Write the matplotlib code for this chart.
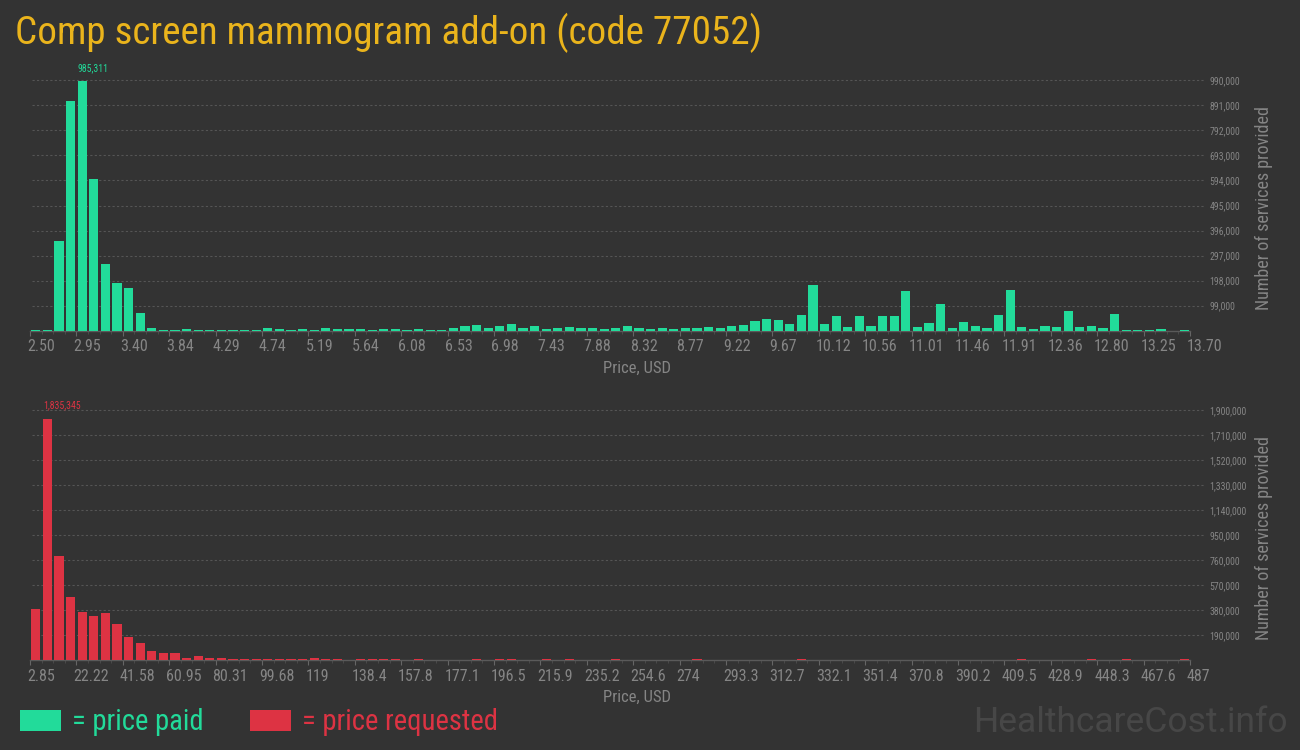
import numpy as np
import matplotlib
matplotlib.use("Agg")
import matplotlib.pyplot as plt
from matplotlib import font_manager
from matplotlib.patches import Rectangle
from matplotlib.transforms import ScaledTranslation

# --- data ---
paid_price_min, paid_price_max = 2.50, 13.70
requested_price_min, requested_price_max = 2.85, 487.0

paid_counts = [
    4000, 4000, 354500, 908000, 985311, 599700, 263600, 188500, 168700, 69900,
    11500, 4000, 4000, 7500, 4000, 4000, 4000, 4000, 4000, 4000,
    11500, 7500, 4000, 7500, 4000, 11500, 7500, 7500, 7500, 4000,
    7500, 7500, 4000, 7500, 4000, 4000, 9500, 17200, 21100, 9200,
    17200, 25000, 9200, 17200, 5300, 9200, 13200, 9200, 9200, 5300,
    9200, 17200, 9200, 5300, 9200, 5300, 9200, 9200, 13200, 9200,
    17200, 21100, 37000, 44900, 41500, 25500, 61500, 180000, 25500, 57500,
    14000, 57500, 18000, 58000, 58000, 156800, 14500, 30300, 105400, 10500,
    34300, 18500, 10500, 61900, 160800, 14500, 6600, 18500, 14500, 77800,
    14500, 18500, 10500, 65900, 4000, 4000, 4000, 6600, 0, 4000,
]

requested_counts = [
    390100, 1835345, 792900, 481300, 367300, 336900, 359700, 276100, 177300, 131700,
    70900, 55700, 55700, 17700, 32900, 17700, 17700, 7000, 10100, 7000,
    10100, 7000, 7000, 7000, 17700, 7000, 7000, 0, 7000, 7000,
    7000, 7000, 0, 7000, 0, 0, 0, 0, 7000, 0,
    7000, 7000, 0, 0, 7000, 0, 7000, 0, 0, 0,
    7000, 0, 0, 0, 0, 0, 0, 7000, 0, 0,
    0, 0, 0, 0, 0, 0, 7000, 0, 0, 0,
    0, 0, 0, 0, 0, 0, 0, 0, 0, 0,
    0, 0, 0, 0, 0, 7000, 0, 0, 0, 0,
    0, 7000, 0, 0, 7000, 0, 0, 0, 0, 7000,
]

paid_tick_labels = [
    "2.50", "2.95", "3.40", "3.84", "4.29", "4.74", "5.19", "5.64", "6.08",
    "6.53", "6.98", "7.43", "7.88", "8.32", "8.77", "9.22", "9.67", "10.12",
    "10.56", "11.01", "11.46", "11.91", "12.36", "12.80", "13.25", "13.70",
]
requested_tick_labels = [
    "2.85", "22.22", "41.58", "60.95", "80.31", "99.68", "119", "138.4",
    "157.8", "177.1", "196.5", "215.9", "235.2", "254.6", "274", "293.3",
    "312.7", "332.1", "351.4", "370.8", "390.2", "409.5", "428.9", "448.3",
    "467.6", "487",
]

paid_yticks = [99000 * i for i in range(1, 11)]
requested_yticks = [190000 * i for i in range(1, 11)]

title = "Comp screen mammogram add-on (code 77052)"

# --- style ---
BG = "#333333"
GREEN = "#22db9a"
RED = "#dd3343"
GOLD = "#eab41c"
GRID = "#555555"
AXIS = "#5a5a5a"
TXT = "#858585"
WATERMARK = "#474747"

names = {f.name for f in font_manager.fontManager.ttflist}


def pick(*cands):
    for c in cands:
        if c in names:
            return c
    return "DejaVu Sans"


NARROW = pick("Roboto Condensed", "Liberation Sans Narrow", "Roboto")
SANS = pick("Roboto Condensed", "Roboto")
PLAIN = pick("Roboto", "Open Sans")

W, H = 1300, 750
fig = plt.figure(figsize=(W / 100, H / 100), dpi=100, facecolor=BG)


def px_axes(left, top, right, bottom):
    return fig.add_axes([left / W, 1 - bottom / H, (right - left) / W, (bottom - top) / H])


def draw_panel(ax, edges, counts, color, yticks, xlabels):
    binw = edges[1] - edges[0]
    ax.set_facecolor(BG)
    ax.bar(edges[:-1] + binw * 0.11, counts, width=binw * 0.78, align="edge",
           color=color, linewidth=0, zorder=3)
    ax.set_xlim(edges[0], edges[-1])
    ax.set_ylim(0, yticks[-1])

    for s in ["top", "left", "right"]:
        ax.spines[s].set_visible(False)
    ax.spines["bottom"].set_color(AXIS)
    ax.spines["bottom"].set_linewidth(1)

    ax.set_xticks(edges[::4])
    ax.set_xticklabels(xlabels, fontfamily=NARROW)
    ax.set_xticks(edges, minor=True)
    ax.tick_params(axis="x", which="major", length=3.5, width=0.8, color="#666666",
                   labelcolor=TXT, labelsize=11.5, pad=2.5)
    ax.tick_params(axis="x", which="minor", length=2, width=0.7, color="#4a4a4a")
    shift = ScaledTranslation(-3 / 100, 0, fig.dpi_scale_trans)
    for lab in ax.get_xticklabels():
        lab.set_horizontalalignment("left")
        lab.set_transform(lab.get_transform() + shift)

    ax.yaxis.tick_right()
    ax.set_yticks(yticks)
    ax.set_yticklabels([f"{v:,}" for v in yticks], fontfamily=NARROW)
    ax.tick_params(axis="y", length=0, pad=14, labelsize=7, labelcolor=TXT)
    for y in yticks:
        ax.axhline(y, xmin=0.002, xmax=1.013, clip_on=False, color=GRID,
                   lw=0.8, ls=(0, (2, 2)), zorder=1)

    ax.text(1.064, 0.49, "Number of services provided", transform=ax.transAxes,
            rotation=90, ha="center", va="center", color=TXT, fontsize=13,
            fontfamily=SANS)
    ax.text(0.523, -0.149, "Price, USD", transform=ax.transAxes, ha="center",
            va="center", color=TXT, fontsize=12, fontfamily=SANS)

    k = int(np.argmax(counts))
    ax.annotate(f"{counts[k]:,}", xy=(edges[k] + binw * 0.11, counts[k]),
                xytext=(0, 6), textcoords="offset points", ha="left",
                va="bottom", color=color, fontsize=7, fontfamily=NARROW,
                annotation_clip=False)


paid_edges = np.linspace(paid_price_min, paid_price_max, len(paid_counts) + 1)
requested_edges = np.linspace(requested_price_min, requested_price_max,
                              len(requested_counts) + 1)

ax1 = px_axes(30, 80.3, 1190, 330.7)
draw_panel(ax1, paid_edges, paid_counts, GREEN, paid_yticks, paid_tick_labels)

ax2 = px_axes(30, 410.3, 1190, 660.3)
draw_panel(ax2, requested_edges, requested_counts, RED, requested_yticks,
           requested_tick_labels)

# title
fig.text(15 / W, 1 - 44 / H, title, color=GOLD, fontsize=28.2, fontfamily=SANS,
         ha="left", va="baseline")

# legend
fig.add_artist(Rectangle((20 / W, 1 - 731 / H), 41 / W, 21 / H,
                         transform=fig.transFigure, color=GREEN, lw=0))
fig.text(72 / W, 1 - 730 / H, "= price paid", color=GREEN, fontsize=20.6,
         fontfamily=SANS, ha="left", va="baseline")
fig.add_artist(Rectangle((250 / W, 1 - 731 / H), 41 / W, 21 / H,
                         transform=fig.transFigure, color=RED, lw=0))
fig.text(302 / W, 1 - 730 / H, "= price requested", color=RED, fontsize=20.6,
         fontfamily=SANS, ha="left", va="baseline")

# watermark
fig.text(1288 / W, 1 - 732 / H, "HealthcareCost.info", color=WATERMARK,
         fontsize=25.5, fontfamily=PLAIN, ha="right", va="baseline")

fig.savefig("out.png", dpi=100, facecolor=BG)
